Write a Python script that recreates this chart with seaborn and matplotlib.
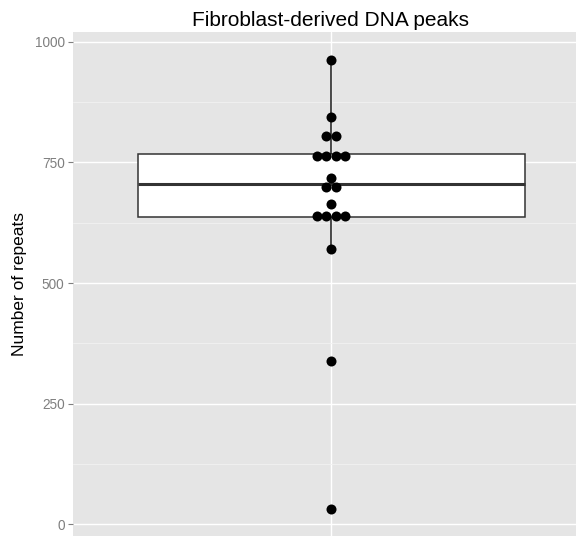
import numpy as np
import pandas as pd
import matplotlib
matplotlib.use("Agg")
import matplotlib.pyplot as plt
import seaborn as sns

# Repeat counts for each fibroblast-derived DNA peak
repeats = [32, 339, 570, 636, 636, 638, 643, 664, 692, 705, 718,
           758, 762, 767, 769, 803, 806, 843, 963]
group = ["peaks"] * len(repeats)
y_ticks = [0, 250, 500, 750, 1000]
y_minor = [125, 375, 625, 875]
title = "Fibroblast-derived DNA peaks"
y_label = "Number of repeats"

sns.set_theme(style="white")
plt.rcParams["font.family"] = ["Liberation Sans", "DejaVu Sans"]

df = pd.DataFrame({"group": group, "repeats": repeats})

W, H = 576, 537
fig = plt.figure(figsize=(W / 100, H / 100), dpi=100)
# panel runs a little past the right edge of the canvas
left, right, top, bottom = 73, 589, 31.7, 536
ax = fig.add_axes([left / W, (H - bottom) / H, (right - left) / W, (bottom - top) / H])
ax.set_facecolor("#E5E5E5")
ax.set_axisbelow(True)

sns.boxplot(data=df, x="group", y="repeats", ax=ax, width=0.9,
            whis=1.5, showfliers=False, showcaps=False,
            linecolor="#333333", linewidth=1.1,
            boxprops=dict(facecolor="white", zorder=2),
            whiskerprops=dict(color="#1a1a1a", linewidth=1.1, zorder=2),
            medianprops=dict(color="#333333", linewidth=2.2, zorder=3))


# dot-density binning: each bin starts at its smallest value and spans one
# bin width; dots sit at the bin centre and are stacked sideways around x=0
def dot_stacks(values, binwidth, step):
    v = np.sort(np.asarray(values, dtype=float))
    xs, ys = [], []
    i = 0
    while i < len(v):
        j = i
        while j < len(v) and v[j] < v[i] + binwidth:
            j += 1
        k = j - i
        centre = (v[i] + v[j - 1]) / 2
        xs.extend((np.arange(k) - (k - 1) / 2) * step)
        ys.extend([centre] * k)
        i = j
    return np.array(xs), np.array(ys)


dx, dy = dot_stacks(repeats, binwidth=20.7, step=0.0214)
sns.scatterplot(x=dx, y=dy, ax=ax, color="black", s=52, linewidth=0,
                zorder=4, legend=False)

ax.set_xlim(-0.6, 0.6)
ax.set_ylim(-24.0, 1020.7)
ax.set_yticks(y_ticks)
ax.set_yticks(y_minor, minor=True)
ax.set_yticklabels([str(t) for t in y_ticks])
ax.set_xticks([0])
ax.set_xticklabels([""])
ax.grid(True, which="major", color="white", linewidth=1.0)
ax.grid(True, which="minor", axis="y", color="#F2F2F2", linewidth=0.6)
ax.tick_params(axis="y", which="major", length=3.6, width=0.8, color="#7F7F7F",
               labelcolor="#7F7F7F", labelsize=9.8, pad=2.5, left=True)
ax.tick_params(axis="y", which="minor", length=0)
ax.tick_params(axis="x", length=0)
ax.set_xlabel("")
ax.set_ylabel("")
for s in ax.spines.values():
    s.set_visible(False)

fig.text(331 / W, 1 - 20 / H, title, ha="center", va="center",
         fontsize=15, color="black")
fig.text(20 / W, 1 - 284 / H, y_label, ha="center", va="center",
         rotation=90, fontsize=12.5, color="black")

fig.savefig("out.png", dpi=100)
